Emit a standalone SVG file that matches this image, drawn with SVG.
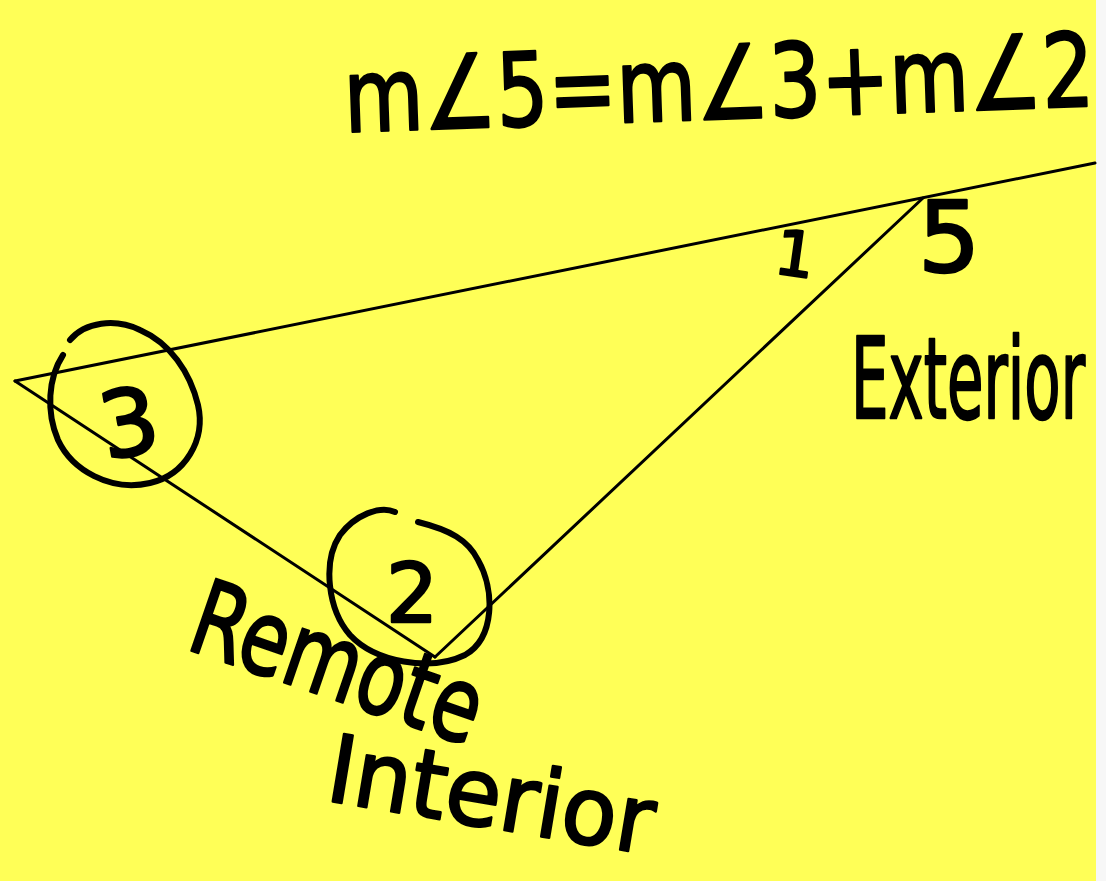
<svg xmlns="http://www.w3.org/2000/svg" width="1106" height="881" viewBox="0 0 1106 881">
<style>
.hw{font-family:"DejaVu Sans","Liberation Sans",sans-serif;fill:#000;stroke:#000;stroke-width:2.5;stroke-linejoin:round}
.ln{stroke:#000;stroke-width:3;fill:none;stroke-linecap:round}
.ring{stroke:#000;stroke-width:6;fill:none;stroke-linecap:round;stroke-linejoin:round}
</style>
<rect x="0" y="0" width="1106" height="881" fill="#f7f7f7"/>
<rect id="paper-bg" x="0" y="0" width="1096" height="881" fill="#ffff57"/>
<g id="connectors">
<line class="ln" x1="15" y1="381" x2="1095" y2="163"/>
<line class="ln" x1="15" y1="381" x2="435" y2="657"/>
<line class="ln" x1="435" y1="657" x2="923" y2="198"/>
</g>
<g id="equation">
<text class="hw" x="0" y="0" font-size="102" transform="translate(345 132) rotate(-2) scale(0.8 1)">m∠5=m∠3+m∠2</text>
</g>
<g id="angle1"><text class="hw" x="776" y="275" font-size="62" transform="rotate(8 790 250)">1</text></g>
<g id="angle5"><text class="hw" x="918" y="272" font-size="98">5</text></g>
<g id="exterior-label"><text class="hw" x="0" y="0" font-size="112" transform="translate(851 418) scale(0.53 1)">Exterior</text></g>
<g id="angle3">
<path class="ring" d="M70,340 C85,322 115,318 140,330 C170,343 190,372 198,405 C206,440 185,475 150,483 C110,492 72,470 58,440 C46,412 48,378 63,355"/>
<text class="hw" x="100" y="456" font-size="92" transform="rotate(-10 125 425)">3</text>
</g>
<g id="angle2">
<path class="ring" d="M395,512 C380,505 355,515 340,535 C322,562 328,610 350,635 C375,662 430,672 465,655 C495,638 495,590 478,560 C468,540 450,530 418,522"/>
<text class="hw" x="386" y="622" font-size="82">2</text>
</g>
<g id="remote-label"><text class="hw" x="0" y="0" font-size="104" transform="translate(184 648) rotate(19) scale(0.75 1)">Remote</text></g>
<g id="interior-label"><text class="hw" x="0" y="0" font-size="94" transform="translate(324 800) rotate(9.5) scale(0.96 1)">Interior</text></g>
</svg>
